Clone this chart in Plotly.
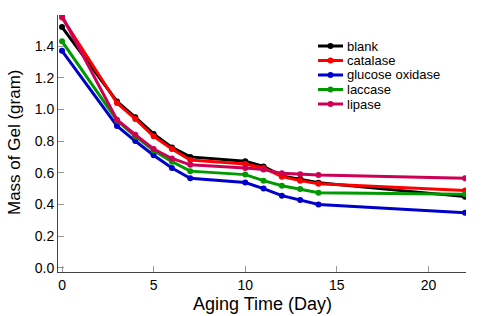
import plotly.graph_objects as go

days = [0, 3, 4, 5, 6, 7, 10, 11, 12, 13, 14, 22]
blank = [1.52, 1.05, 0.95, 0.845, 0.76, 0.70, 0.672, 0.64, 0.58, 0.56, 0.537, 0.449]
catalase = [1.58, 1.04, 0.94, 0.83, 0.75, 0.68, 0.655, 0.63, 0.575, 0.55, 0.53, 0.487]
glucose_oxidase = [1.37, 0.895, 0.80, 0.71, 0.63, 0.565, 0.538, 0.50, 0.455, 0.428, 0.40, 0.347]
laccase = [1.43, 0.93, 0.83, 0.74, 0.67, 0.61, 0.588, 0.55, 0.518, 0.497, 0.474, 0.464]
lipase = [1.59, 0.935, 0.84, 0.75, 0.69, 0.65, 0.63, 0.62, 0.596, 0.59, 0.585, 0.565]
x_ticks = [0, 5, 10, 15, 20]
y_ticks = [0, 0.2, 0.4, 0.6, 0.8, 1.0, 1.2, 1.4]

series = [
    ("blank", blank, "#000000"),
    ("catalase", catalase, "#ff0000"),
    ("glucose oxidase", glucose_oxidase, "#0000cc"),
    ("laccase", laccase, "#009900"),
    ("lipase", lipase, "#cc0055"),
]

FONT = "Liberation Sans, Arial"
W, H = 500, 316
ML, MR, MT, MB = 58, 34, 15, 44
PW, PH = W - ML - MR, H - MT - MB

fig = go.Figure()
for name, vals, col in series:
    fig.add_trace(go.Scatter(
        x=days, y=vals, name=name, mode="lines+markers",
        line=dict(color=col, width=3),
        marker=dict(color=col, size=6),
        showlegend=False,
    ))

axis_common = dict(
    showgrid=False, zeroline=False, showline=True, linecolor="#444", linewidth=1,
    ticks="inside", tickcolor="#999", ticklen=6, tickwidth=1,
    tickfont=dict(family=FONT, size=14, color="#000"),
    automargin=False,
)

# manual legend (compact spacing like the reference)
shapes = []
annotations = []
leg_x_px, leg_y_px, step = 318, 46, 14.5
ax_px = (leg_x_px - ML) / PW
for i, (name, vals, col) in enumerate(series):
    yp = (H - MB - (leg_y_px + i * step)) / PH
    shapes.append(dict(type="line", xref="paper", yref="paper",
                       xsizemode="pixel", ysizemode="pixel",
                       xanchor=ax_px, yanchor=yp,
                       x0=0, x1=25, y0=0, y1=0,
                       line=dict(color=col, width=3)))
    shapes.append(dict(type="circle", xref="paper", yref="paper",
                       xsizemode="pixel", ysizemode="pixel",
                       xanchor=ax_px, yanchor=yp,
                       x0=9.5, x1=15.5, y0=-3, y1=3,
                       fillcolor=col, line=dict(color=col, width=0)))
    annotations.append(dict(text=name, xref="paper", yref="paper",
                            x=(leg_x_px + 27 - ML) / PW, y=yp,
                            xanchor="left", yanchor="middle", showarrow=False,
                            font=dict(family=FONT, size=13, color="#000")))

annotations.append(dict(text="Aging Time (Day)", xref="paper", yref="paper",
                        x=0.5, y=(H - MB - 304) / PH, xanchor="center", yanchor="middle",
                        showarrow=False, font=dict(family=FONT, size=18, color="#000")))
annotations.append(dict(text="Mass of Gel (gram)", xref="paper", yref="paper",
                        x=(14 - ML) / PW, y=(H - MB - 143) / PH, xanchor="center", yanchor="middle",
                        textangle=-90, showarrow=False,
                        font=dict(family=FONT, size=17, color="#000")))

fig.update_layout(
    width=W, height=H,
    margin=dict(l=ML, r=MR, t=MT, b=MB),
    paper_bgcolor="white", plot_bgcolor="white",
    font=dict(family=FONT, color="#000"),
    xaxis=dict(range=[-0.22, 22.05], tickvals=x_ticks, **axis_common),
    yaxis=dict(range=[-0.027, 1.596], tickvals=y_ticks, tickformat=".1f", **axis_common),
    shapes=shapes,
    annotations=annotations,
    showlegend=False,
)

fig.write_html("out.html", config={"displayModeBar": False},
               post_script="document.body.style.margin='0px';")
